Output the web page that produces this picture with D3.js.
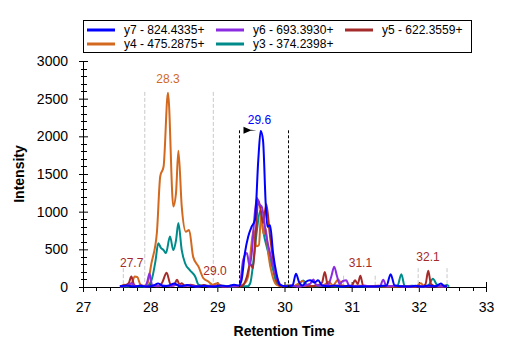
<!DOCTYPE html>
<html>
<head>
<meta charset="utf-8">
<script src="https://cdn.jsdelivr.net/npm/d3@7"></script>
<style>
  body { margin: 0; background: #fff; }
  svg { font-family: "Liberation Sans", Arial, sans-serif; }
</style>
</head>
<body>
<svg id="chart" width="507" height="351"></svg>
<script>
// transitions, [time, intensity]
var names = ["y7 - 824.4335+", "y6 - 693.3930+", "y5 - 622.3559+", "y4 - 475.2875+", "y3 - 374.2398+"];

var y7 = [[27.55,10],[27.65,20],[27.75,5],[27.85,15],[27.95,5],[28.05,20],[28.12,45],[28.2,10],[28.28,20],[28.36,45],[28.44,10],
  [28.55,25],[28.65,5],[28.8,15],[28.95,5],[29.05,20],[29.15,10],[29.25,30],[29.32,20],[29.36,90],[29.41,450],[29.46,670],
  [29.51,800],[29.56,890],[29.61,1690],[29.645,2070],[29.68,1950],[29.72,1110],[29.745,800],[29.785,820],[29.83,450],
  [29.88,180],[29.93,30],[29.98,15],[30.05,10],[30.12,20],[30.17,175],[30.22,60],[30.27,20],[30.32,70],[30.38,90],[30.45,60],
  [30.5,90],[30.56,20],[30.65,10],[30.75,20],[30.85,5],[30.95,15],[31.05,5],[31.15,10],[31.3,5],[31.45,15],[31.52,20],
  [31.58,170],[31.64,20],[31.75,10],[31.85,5],[31.95,15],[32.05,5],[32.15,20],[32.25,10],[32.33,45],[32.38,10],[32.42,10]];

var y6 = [[27.55,5],[27.65,15],[27.72,50],[27.78,10],[27.85,20],[27.92,10],[27.96,80],[27.99,180],[28.03,20],[28.1,10],
  [28.2,20],[28.3,10],[28.4,30],[28.5,10],[28.6,20],[28.7,5],[28.8,15],[28.9,5],[29.0,15],[29.1,5],[29.2,10],[29.33,15],
  [29.385,360],[29.44,450],[29.48,280],[29.52,520],[29.55,900],[29.59,1180],[29.62,1100],[29.66,1070],[29.73,670],
  [29.81,360],[29.88,140],[29.94,30],[30.0,10],[30.1,20],[30.2,5],[30.3,20],[30.38,40],[30.43,100],[30.47,30],[30.55,15],
  [30.65,30],[30.7,150],[30.74,270],[30.78,150],[30.82,40],[30.87,80],[30.92,90],[30.96,20],[31.05,10],[31.2,15],
  [31.35,5],[31.42,10],[31.47,95],[31.52,10],[31.65,15],[31.8,5],[31.95,10],[32.1,5],[32.25,10],[32.42,5]];

var y5 = [[27.55,5],[27.62,20],[27.68,50],[27.72,140],[27.76,30],[27.8,10],[27.88,20],[27.95,5],[28.05,20],[28.12,10],
  [28.18,60],[28.245,190],[28.3,40],[28.35,20],[28.4,95],[28.44,30],[28.47,50],[28.52,15],[28.6,30],[28.7,10],[28.8,25],
  [28.9,10],[29.0,20],[29.1,5],[29.2,15],[29.3,5],[29.38,20],[29.44,140],[29.49,310],[29.53,250],[29.57,700],[29.61,1150],
  [29.65,1000],[29.68,850],[29.73,1100],[29.78,710],[29.83,360],[29.88,100],[29.93,20],[30.0,10],[30.1,20],[30.2,10],
  [30.3,15],[30.4,10],[30.5,20],[30.56,60],[30.6,200],[30.64,40],[30.7,10],[30.8,20],[30.9,10],[31.0,15],[31.05,90],
  [31.09,40],[31.13,150],[31.17,20],[31.25,10],[31.4,15],[31.55,5],[31.7,10],[31.85,5],[31.98,10],[32.05,10],[32.1,40],
  [32.14,215],[32.18,40],[32.25,10],[32.35,20],[32.42,10]];

var y4 = [[27.55,5],[27.62,30],[27.68,10],[27.73,60],[27.77,140],[27.81,130],[27.85,40],[27.9,10],[27.95,20],[28.02,320],
  [28.1,720],[28.15,1470],[28.2,1600],[28.265,2580],[28.345,1070],[28.385,1250],[28.42,1810],[28.47,1070],[28.53,735],
  [28.58,755],[28.64,400],[28.72,270],[28.79,120],[28.87,70],[28.93,30],[29.0,50],[29.05,20],[29.15,10],[29.25,15],
  [29.35,20],[29.42,60],[29.46,150],[29.5,500],[29.54,760],[29.58,540],[29.62,560],[29.65,950],[29.69,700],[29.72,780],
  [29.76,430],[29.82,150],[29.88,30],[29.95,10],[30.05,20],[30.12,10],[30.2,40],[30.27,80],[30.33,20],[30.42,10],[30.5,30],
  [30.57,20],[30.66,70],[30.72,20],[30.8,100],[30.86,20],[30.95,10],[31.1,20],[31.25,5],[31.4,10],[31.6,5],[31.8,10],
  [31.95,5],[32.03,50],[32.08,10],[32.2,15],[32.32,5],[32.42,10]];

var y3 = [[27.55,10],[27.65,5],[27.75,15],[27.85,5],[27.95,10],[28.02,90],[28.08,350],[28.12,580],[28.16,520],[28.2,490],
  [28.235,450],[28.295,670],[28.345,490],[28.385,620],[28.42,850],[28.47,490],[28.52,315],[28.59,225],[28.67,140],
  [28.72,30],[28.8,10],[28.9,20],[29.0,5],[29.1,15],[29.2,5],[29.3,10],[29.45,10],[29.49,50],[29.54,360],[29.59,760],
  [29.64,1020],[29.68,760],[29.76,450],[29.83,225],[29.88,50],[29.95,10],[30.05,20],[30.15,10],[30.22,40],[30.28,85],
  [30.34,20],[30.45,10],[30.6,15],[30.8,5],[31.0,15],[31.2,5],[31.4,10],[31.55,5],[31.68,10],[31.74,170],[31.79,10],
  [31.9,15],[32.05,5],[32.14,20],[32.21,110],[32.27,30],[32.35,10],[32.42,25],[32.45,5]];

// peak labels [time, text, series index]
var peakLabels = [[28.265, "28.3", 3], [29.627, "29.6", 0], [27.725, "27.7", 2], [28.965, "29.0", 2], [31.13, "31.1", 2], [32.136, "32.1", 2]];
var peakLabelY = [2707, 2163, 265, 160, 265, 345];
// grey boundary marks [time, top intensity]
var boundaries = [[27.92, 2590], [28.94, 2590], [27.6, 250], [30.88, 150], [31.35, 150], [31.99, 250], [32.42, 250]];
// selected integration window
var window_ = [29.33, 30.06];
var windowTop = 2080;

var xTicks = [27, 28, 29, 30, 31, 32, 33];
var yTicks = [0, 500, 1000, 1500, 2000, 2500, 3000];

var series = [y7, y6, y5, y4, y3];
var colors = ["#0000ff", "#8a2be2", "#a52a2a", "#d2691e", "#008b8b"];

var svg = d3.select("#chart");
var x = d3.scaleLinear().domain([27, 33]).range([83, 486]);
var y = d3.scaleLinear().domain([0, 3000]).range([287, 61]);

// axes
var xAxis = svg.append("g")
    .attr("transform", "translate(0,287)")
    .call(d3.axisBottom(x).tickValues(xTicks).tickFormat(d3.format("d"))
        .tickSize(5).tickPadding(10).tickSizeOuter(0));
var yAxis = svg.append("g")
    .attr("transform", "translate(83,0)")
    .call(d3.axisLeft(y).tickValues(yTicks).tickFormat(d3.format("d"))
        .tickSize(4).tickPadding(11).tickSizeOuter(0));

[xAxis, yAxis].forEach(function(a) {
    a.selectAll("text").style("font-size", "14px").attr("fill", "#000").style("font-family", "Liberation Sans, Arial, sans-serif");
    a.select(".domain").attr("stroke", "#000");
});

// inside half of major ticks
xAxis.selectAll(".tick").append("line").attr("y2", -5).attr("stroke", "#000");
yAxis.selectAll(".tick").append("line").attr("x2", 5).attr("stroke", "#000");

// minor ticks
var xMinor = d3.range(27, 33.001, 0.2).filter(function(d) { return Math.abs(d - Math.round(d)) > 0.01; });
svg.append("g").selectAll("line").data(xMinor).enter().append("line")
    .attr("x1", function(d) { return Math.round(x(d)) + 0.5; })
    .attr("x2", function(d) { return Math.round(x(d)) + 0.5; })
    .attr("y1", 287).attr("y2", 291).attr("stroke", "#000");
var yMinor = d3.range(0, 3001, 100).filter(function(d) { return d % 500 != 0; });
svg.append("g").selectAll("line").data(yMinor).enter().append("line")
    .attr("y1", function(d) { return Math.round(y(d)) + 0.5; })
    .attr("y2", function(d) { return Math.round(y(d)) + 0.5; })
    .attr("x1", 81).attr("x2", 87).attr("stroke", "#000");

// axis titles
svg.append("text")
    .attr("x", 284).attr("y", 336)
    .attr("text-anchor", "middle")
    .style("font-size", "14px").style("font-weight", "bold")
    .text("Retention Time");
svg.append("text")
    .attr("transform", "translate(24,174) rotate(-90)")
    .attr("text-anchor", "middle")
    .style("font-size", "14px").style("font-weight", "bold")
    .text("Intensity");

// grey boundary marks
svg.append("g").selectAll("line").data(boundaries).enter().append("line")
    .attr("x1", function(d) { return x(d[0]); })
    .attr("x2", function(d) { return x(d[0]); })
    .attr("y1", function(d) { return y(d[1]); })
    .attr("y2", y(0))
    .attr("stroke", "#c8c8c8").attr("stroke-dasharray", "4,2");

// clip
svg.append("clipPath").attr("id", "plotclip")
    .append("rect").attr("x", 83).attr("y", 55).attr("width", 403).attr("height", 233);

var line = d3.line()
    .x(function(d) { return x(d[0]); })
    .y(function(d) { return y(d[1]); })
    .curve(d3.curveMonotoneX);

var order = [4, 3, 2, 1, 0];
svg.append("g").attr("clip-path", "url(#plotclip)")
    .selectAll("path").data(order).enter().append("path")
    .attr("d", function(i) { return line(series[i]); })
    .attr("fill", "none")
    .attr("stroke", function(i) { return colors[i]; })
    .attr("stroke-width", 2)
    .attr("stroke-linejoin", "round");

// integration window
svg.append("g").selectAll("line").data(window_).enter().append("line")
    .attr("x1", function(d) { return x(d); })
    .attr("x2", function(d) { return x(d); })
    .attr("y1", y(windowTop))
    .attr("y2", y(0))
    .attr("stroke", "#000").attr("stroke-dasharray", "3,2");

var fx = x(window_[0]) + 4, fy = y(windowTop);
svg.append("path")
    .attr("d", "M" + fx + "," + (fy - 3.5) + "L" + (fx + 7) + "," + (fy - 0.5) + "L" + (fx + 13) + "," + fy +
        "L" + (fx + 7) + "," + (fy + 0.5) + "L" + fx + "," + (fy + 3.5) + "Z")
    .attr("fill", "#000");

// peak labels
svg.append("g").selectAll("text").data(peakLabels).enter().append("text")
    .attr("x", function(d) { return x(d[0]); })
    .attr("y", function(d, i) { return y(peakLabelY[i]); })
    .attr("text-anchor", "middle")
    .style("font-size", "12px")
    .attr("fill", function(d) { return colors[d[2]]; })
    .text(function(d) { return d[1]; });

// legend
var legend = svg.append("g");
legend.append("rect")
    .attr("x", 83.5).attr("y", 20.5).attr("width", 388).attr("height", 32)
    .attr("fill", "#fff").attr("stroke", "#000");
var items = legend.selectAll("g.item").data(names).enter().append("g")
    .attr("class", "item")
    .attr("transform", function(d, i) {
        return "translate(" + (87 + (i % 3) * 129) + "," + (30 + Math.floor(i / 3) * 14) + ")";
    });
items.append("line")
    .attr("x1", 0).attr("x2", 28)
    .attr("stroke", function(d, i) { return colors[i]; })
    .attr("stroke-width", 3);
items.append("text")
    .attr("x", 37).attr("dy", "0.35em")
    .style("font-size", "12px")
    .text(function(d) { return d; });
</script>
</body>
</html>
